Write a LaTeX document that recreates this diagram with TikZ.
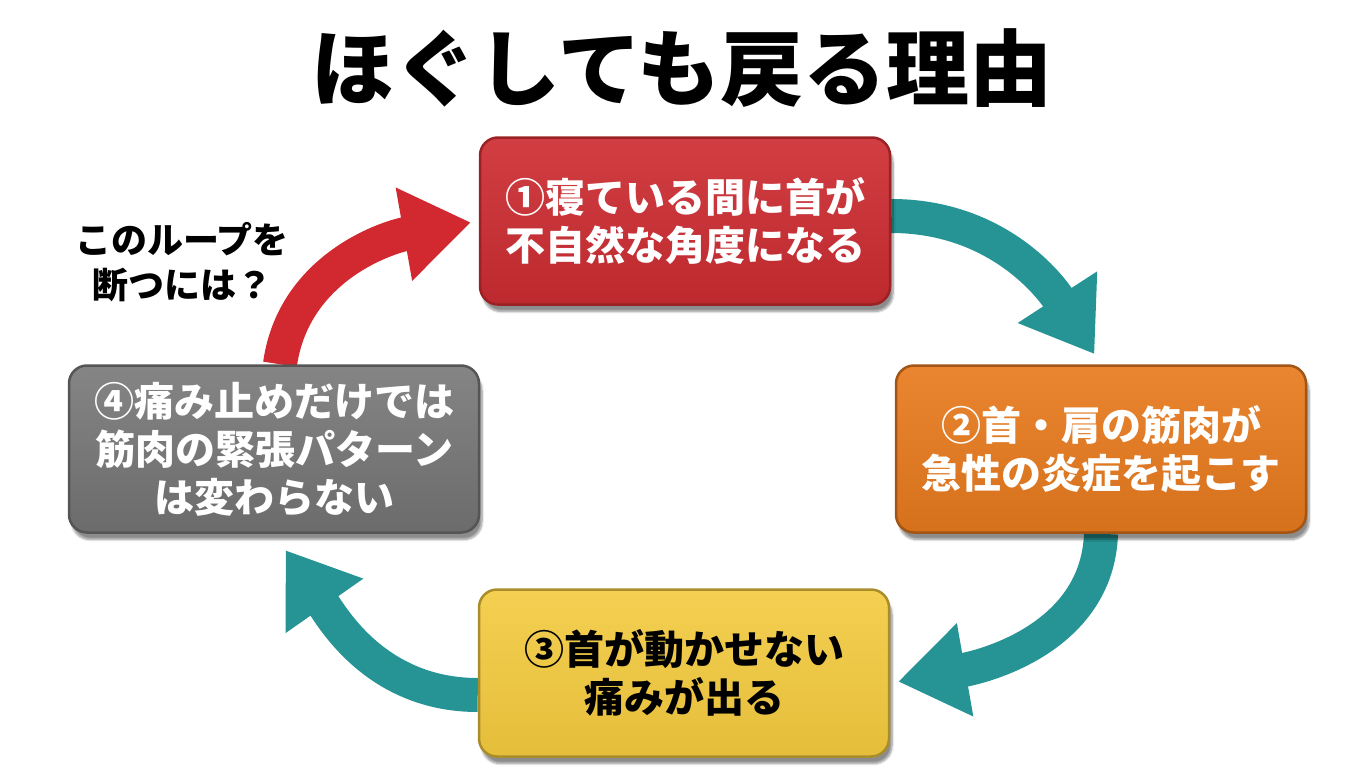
\documentclass[tikz,border=0pt]{standalone}
\usepackage{fontspec}
\setmainfont{Noto Sans CJK JP}
\usepackage{xcolor}
\usepackage{tikz}
\usetikzlibrary{
  arrows.meta,
  positioning,
  backgrounds,
  shadows.blur
}
\definecolor{loopRed}{RGB}{205,45,50}
\definecolor{loopOrange}{RGB}{232,122,30}
\definecolor{loopYellow}{RGB}{243,202,62}
\definecolor{loopGray}{RGB}{122,122,122}
\definecolor{loopTeal}{RGB}{38,148,148}
\definecolor{loopArrowRed}{RGB}{210,40,48}

\begin{document}
\begin{tikzpicture}[
  x=1pt, y=-1pt,
  step box/.style={
    rounded corners=18pt,
    minimum width=410pt,
    minimum height=167pt,
    inner sep=0pt,
    align=center,
    line width=2.5pt,
    font=\fontsize{40}{48}\selectfont\bfseries,
    blur shadow={shadow xshift=3pt, shadow yshift=-7pt,
      shadow blur steps=8, shadow opacity=45}
  },
  redbox/.style={step box, draw=loopRed!75!black,
    top color=loopRed!92!white, bottom color=loopRed!92!black, text=white},
  orangebox/.style={step box, draw=loopOrange!70!black,
    top color=loopOrange!92!white, bottom color=loopOrange!92!black, text=white},
  yellowbox/.style={step box, draw=loopYellow!70!black,
    top color=loopYellow!90!white, bottom color=loopYellow!94!black, text=black},
  graybox/.style={step box, draw=loopGray!70!black,
    top color=loopGray!92!white, bottom color=loopGray!88!black, text=white},
  cycle arrow/.style={line width=34pt,
    -{Triangle[length=68pt, width=90pt]}}
]
\useasboundingbox (0,0) rectangle (1360,784);

% title
\node[font=\fontsize{83}{90}\selectfont\bfseries] (title) at (682,68)
  {ほぐしても戻る理由};

% the four steps
\node[redbox] (sleep) at (685,221)
  {①寝ている間に首が\\不自然な角度になる};
\node[orangebox] (inflame) at (1101,449)
  {②首・肩の筋肉が\\急性の炎症を起こす};
\node[yellowbox] (pain) at (684,673)
  {③首が動かせない\\痛みが出る};
\node[graybox] (relief) at (274,449)
  {④痛み止めだけでは\\筋肉の緊張パターン\\は変わらない};

\node[font=\fontsize{36}{45}\selectfont\bfseries, align=center] (question)
  at (182,262) {このループを\\断つには？};

% arrows
\begin{scope}[on background layer]
\draw[cycle arrow, loopTeal, shorten >=12pt]
  ([yshift=5pt]sleep.east) to[out=0, in=123] (inflame.north);
\draw[cycle arrow, loopTeal, shorten >=8pt]
  (inflame.south) to[out=-92, in=10] ([yshift=-10pt]pain.east);
\draw[cycle arrow, loopTeal, shorten >=20pt]
  ([yshift=-22pt]pain.west) to[out=180, in=-55] (relief.south);
\draw[cycle arrow, loopArrowRed, shorten >=8pt]
  ([xshift=6pt]relief.north) to[out=82, in=190] (sleep.west);
\end{scope}

\end{tikzpicture}
\end{document}
